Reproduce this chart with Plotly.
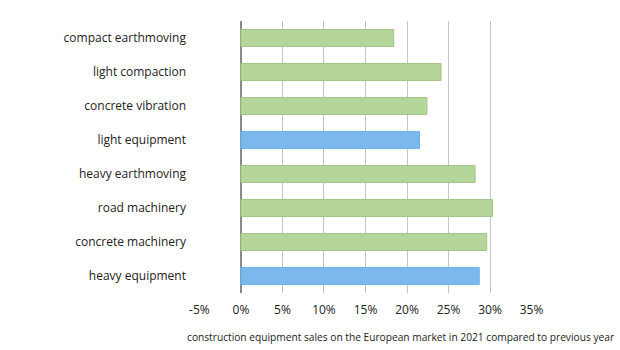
import plotly.graph_objects as go

categories = ["compact earthmoving", "light compaction", "concrete vibration", "light equipment",
              "heavy earthmoving", "road machinery", "concrete machinery", "heavy equipment"]
values = [18.4, 24.1, 22.4, 21.5, 28.2, 30.3, 29.6, 28.7]
groups = ["detail", "detail", "detail", "total", "detail", "detail", "detail", "total"]
tick_vals = [-5, 0, 5, 10, 15, 20, 25, 30, 35]
tick_text = ["-5%", "0%", "5%", "10%", "15%", "20%", "25%", "30%", "35%"]
axis_title = "construction equipment sales on the European market in 2021 compared to previous year"

fill = {"detail": "#b5d69b", "total": "#7db8ec"}
edge = {"detail": "#a3c488", "total": "#74b0e6"}

fig = go.Figure(go.Bar(
    y=categories, x=values, orientation="h", width=0.5,
    marker=dict(color=[fill[g] for g in groups],
                line=dict(color=[edge[g] for g in groups], width=1)),
))

fig.update_layout(
    width=620, height=350,
    margin=dict(l=199, r=88, t=21, b=57),
    paper_bgcolor="white", plot_bgcolor="white",
    showlegend=False,
    font=dict(family="Open Sans", size=12, color="#222222"),
    xaxis=dict(range=[-5.05, 35.05], tickvals=tick_vals, ticktext=tick_text,
               showgrid=True, gridcolor="#c4c4c4", gridwidth=1,
               zeroline=True, zerolinecolor="#8a8a8a", zerolinewidth=2,
               showline=False, ticks="", ticklabelstandoff=8,
               tickfont=dict(size=12, color="#222222")),
    yaxis=dict(categoryorder="array", categoryarray=categories, autorange="reversed",
               showgrid=False, showline=False, ticks="", ticklabelstandoff=12,
               tickfont=dict(size=12, color="#222222")),
    annotations=[dict(text=axis_title, xref="paper", yref="paper", x=(185 - 199) / 333, y=-0.16,
                      xanchor="left", yanchor="middle", showarrow=False,
                      font=dict(size=10.2, color="#222222"))],
)

fig.write_html("out.html")
